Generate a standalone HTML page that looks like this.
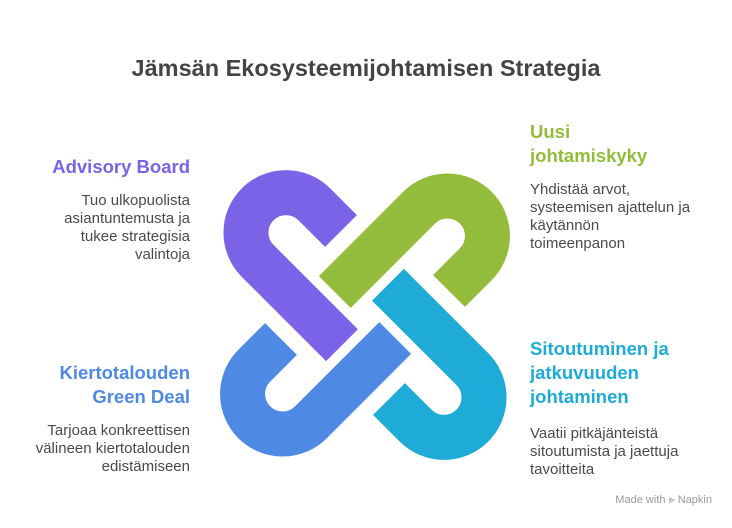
<!DOCTYPE html>
<html><head><meta charset="utf-8"><style>
body{margin:0;width:732px;height:528px;background:#fff;font-family:"Liberation Sans",sans-serif;position:relative;overflow:hidden}
.t{position:absolute;left:0;width:732px;text-align:center;top:53px;font-size:23.5px;font-weight:bold;color:#444;line-height:30px}
.h{position:absolute;font-size:18.5px;font-weight:bold;line-height:24px;white-space:nowrap}
.b{position:absolute;font-size:15px;line-height:18px;color:#4a4a4a;white-space:nowrap}
.l{right:542px;text-align:right}
.r{left:530px;text-align:left}
</style></head><body>
<div class="t">Jämsän Ekosysteemijohtamisen Strategia</div>
<div class="h l" style="top:155px;color:#7B63E8">Advisory Board</div>
<div class="b l" style="top:192px">Tuo ulkopuolista<br>asiantuntemusta ja<br>tukee strategisia<br>valintoja</div>
<div class="h l" style="top:361px;color:#4E89E4">Kiertotalouden<br>Green Deal</div>
<div class="b l" style="top:422px">Tarjoaa konkreettisen<br>välineen kiertotalouden<br>edistämiseen</div>
<div class="h r" style="top:120px;color:#93BC3A">Uusi<br>johtamiskyky</div>
<div class="b r" style="top:181px">Yhdistää arvot,<br>systeemisen ajattelun ja<br>käytännön<br>toimeenpanon</div>
<div class="h r" style="top:337px;color:#1FABD8">Sitoutuminen ja<br>jatkuvuuden<br>johtaminen</div>
<div class="b r" style="top:425px">Vaatii pitkäjänteistä<br>sitoutumista ja jaettuja<br>tavoitteita</div>
<svg width="732" height="528" style="position:absolute;left:0;top:0">
<defs><path id="p" d="M341 231 L314.3 204.3 A40 40 0 1 0 257.7 260.9 L342 345.2" fill="none" stroke-width="45" stroke-linecap="butt"/></defs>
<use href="#p" stroke="#7B63E8"/>
<use href="#p" stroke="#93BC3A" transform="rotate(90 365 315)"/>
<use href="#p" stroke="#1FABD8" transform="rotate(180 365 315)"/>
<use href="#p" stroke="#4E89E4" transform="rotate(270 365 315)"/>
</svg>
<div style="position:absolute;right:20px;top:494px;font-size:11px;color:#999">Made with ⪢ Napkin</div>
</body></html>
